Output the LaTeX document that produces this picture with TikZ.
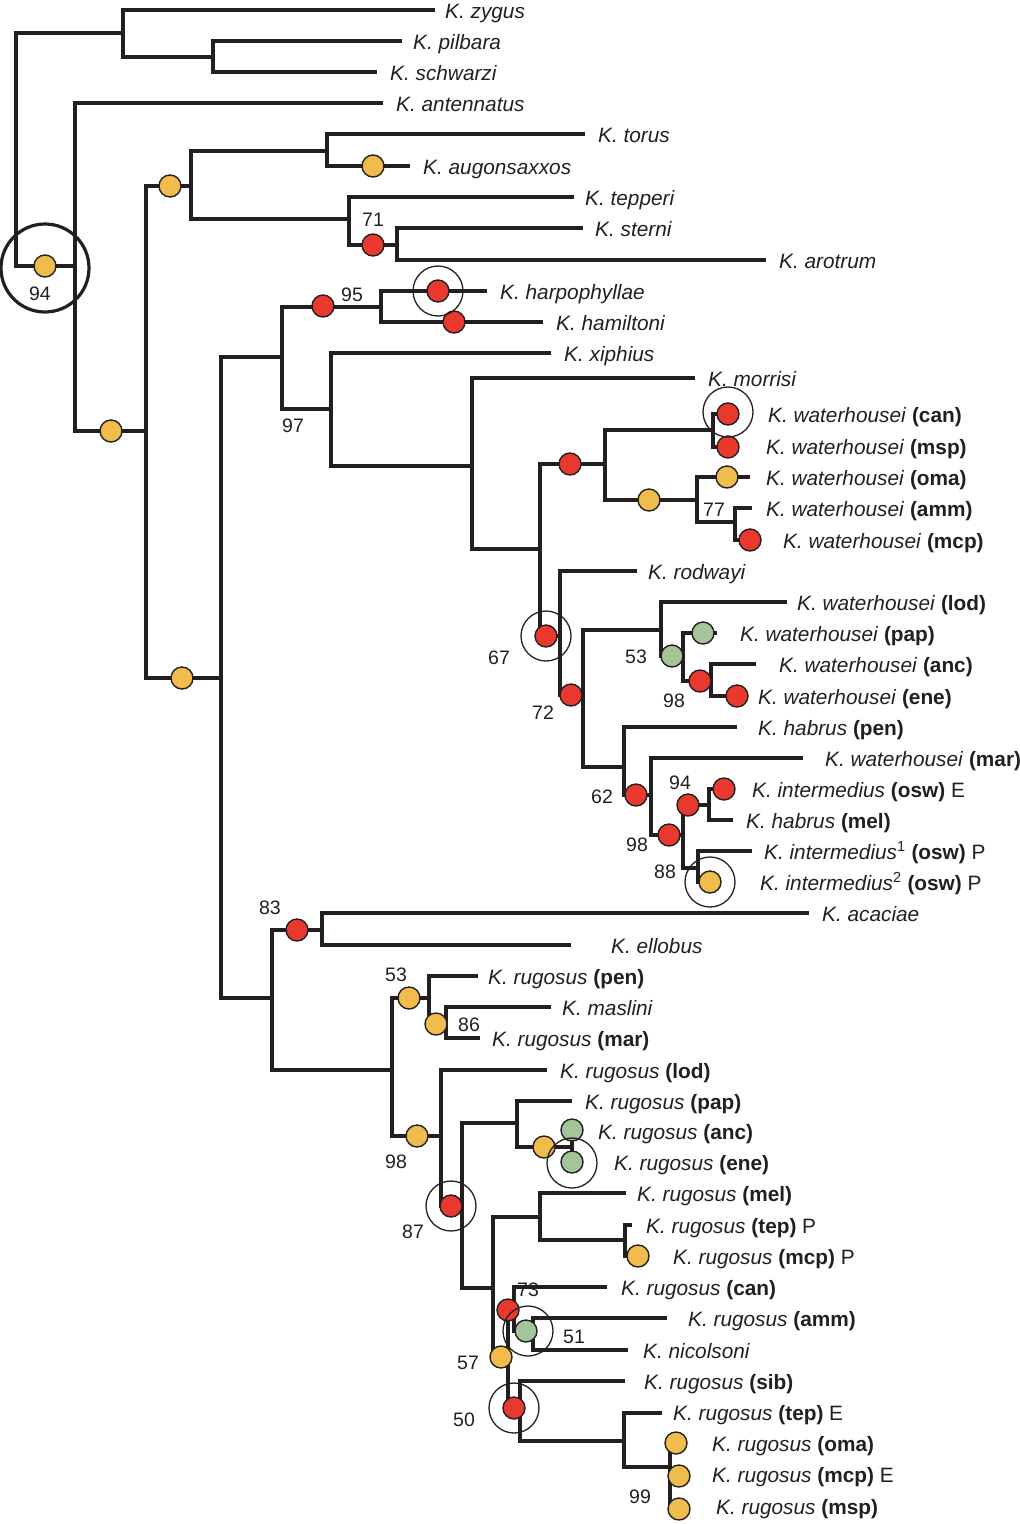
\documentclass[tikz,border=0pt]{standalone}
\usepackage{fontspec}
\setmainfont{Liberation Sans}
\definecolor{tb}{RGB}{35,31,32}
\definecolor{dyel}{RGB}{240,189,76}
\definecolor{dred}{RGB}{233,57,46}
\definecolor{dgrn}{RGB}{164,196,153}
\newcommand{\kn}[1]{\textit{K. #1}}
\begin{document}
\begin{tikzpicture}[x=1pt,y=-1pt,
  br/.style={line width=3.4pt,draw=tb,line join=miter},
  lab/.style={anchor=base west,inner sep=0pt,text=tb,font=\fontsize{20.8}{24}\selectfont},
  num/.style={anchor=center,inner sep=0pt,text=tb,font=\fontsize{19.5}{23}\selectfont},
  dot/.style={circle,minimum size=22pt,inner sep=0pt,draw=tb,line width=1.4pt},
  ydot/.style={dot,fill=dyel},
  rdot/.style={dot,fill=dred},
  gdot/.style={dot,fill=dgrn},
  ring/.style={circle,minimum size=50pt,inner sep=0pt,draw=tb,line width=1.3pt},
  bigring/.style={circle,minimum size=88pt,inner sep=0pt,draw=tb,line width=3.2pt}]
\useasboundingbox (0,0) rectangle (1020,1524);
% internal nodes
\coordinate (R) at (16,150);
\coordinate (N1) at (123,33);
\coordinate (N2) at (213,57);
\coordinate (N3) at (75,266);
\coordinate (N4) at (146,431);
\coordinate (N5) at (191,186);
\coordinate (N6) at (327,151);
\coordinate (N7) at (349,219);
\coordinate (N8) at (397,245);
\coordinate (N10) at (221,678);
\coordinate (N11) at (282,357);
\coordinate (N12) at (381,307);
\coordinate (N13) at (331,409);
\coordinate (N14) at (472,466);
\coordinate (N15) at (540,549);
\coordinate (N16) at (605,464);
\coordinate (N16a) at (713,430);
\coordinate (N16b) at (697,500);
\coordinate (N16c) at (735,522);
\coordinate (N17) at (560,636);
\coordinate (N18) at (583,695);
\coordinate (N18a) at (661,630);
\coordinate (N18b) at (683,656);
\coordinate (N18c) at (711,681);
\coordinate (N19) at (624,767);
\coordinate (N19a) at (651,795);
\coordinate (N19b) at (683,835);
\coordinate (N19c) at (709,805);
\coordinate (N19d) at (698,868);
\coordinate (N20) at (272,998);
\coordinate (N21) at (322,930);
\coordinate (N22) at (392,1070);
\coordinate (N23) at (429,998);
\coordinate (N24) at (446,1024);
\coordinate (N26) at (441,1136);
\coordinate (N27) at (462,1206);
\coordinate (N28) at (517,1123);
\coordinate (N29) at (572,1147);
\coordinate (N30) at (493,1288);
\coordinate (N31) at (540,1217);
\coordinate (N32) at (625,1240);
\coordinate (N35) at (508,1357);
\coordinate (N36) at (514,1310);
\coordinate (N37) at (533,1331);
\coordinate (N38) at (520,1408);
\coordinate (N39) at (624,1441);
\coordinate (N40) at (670,1467);
% leaves
\coordinate (Lzygus) at (435,10);
\coordinate (Lpilbara) at (402,41);
\coordinate (Lschwarzi) at (377,72);
\coordinate (Lantennatus) at (383,103);
\coordinate (Ltorus) at (585,134);
\coordinate (Laugon) at (410,166);
\coordinate (Ltepperi) at (574,197);
\coordinate (Lsterni) at (583,228);
\coordinate (Larotrum) at (766,260);
\coordinate (Lharpo) at (487,291);
\coordinate (Lhamil) at (543,322);
\coordinate (Lxiph) at (551,353);
\coordinate (Lmorr) at (695,378);
\coordinate (Lwcan) at (728,414);
\coordinate (Lwmsp) at (728,447);
\coordinate (Lwoma) at (750,477);
\coordinate (Lwamm) at (752,508);
\coordinate (Lwmcp) at (750,540);
\coordinate (Lrodw) at (637,571);
\coordinate (Lwlod) at (787,602);
\coordinate (Lwpap) at (717,633);
\coordinate (Lwanc) at (756,664);
\coordinate (Lwene) at (737,696);
\coordinate (Lhpen) at (737,727);
\coordinate (Lwmar) at (803,758);
\coordinate (LiE) at (735,789);
\coordinate (Lhmel) at (733,820);
\coordinate (Li1) at (752,851);
\coordinate (Li2) at (710,882);
\coordinate (Lacac) at (809,913);
\coordinate (Lello) at (571,945);
\coordinate (Lrpen) at (478,976);
\coordinate (Lmasl) at (551,1007);
\coordinate (Lrmar) at (480,1038);
\coordinate (Lrlod) at (547,1070);
\coordinate (Lrpap) at (572,1101);
\coordinate (Lranc) at (572,1130);
\coordinate (Lrene) at (572,1162);
\coordinate (Lrmel) at (626,1193);
\coordinate (LrtepP) at (632,1225);
\coordinate (LrmcpP) at (638,1256);
\coordinate (Lrcan) at (607,1287);
\coordinate (Lramm) at (667,1318);
\coordinate (Lnic) at (628,1350);
\coordinate (Lrsib) at (625,1381);
\coordinate (LrtepE) at (662,1413);
\coordinate (Lroma) at (676,1443);
\coordinate (LrmcpE) at (679,1476);
\coordinate (Lrmsp) at (679,1509);
% branches
\foreach \p/\c in {R/N1,R/N3,N1/Lzygus,N1/N2,N2/Lpilbara,N2/Lschwarzi,
  N3/Lantennatus,N3/N4,N4/N5,N4/N10,N5/N6,N5/N7,N6/Ltorus,N6/Laugon,
  N7/Ltepperi,N7/N8,N8/Lsterni,N8/Larotrum,N10/N11,N10/N20,N11/N12,N11/N13,
  N12/Lharpo,N12/Lhamil,N13/Lxiph,N13/N14,N14/Lmorr,N14/N15,N15/N16,N15/N17,
  N16/N16a,N16/N16b,N16a/Lwcan,N16a/Lwmsp,N16b/Lwoma,N16b/N16c,N16c/Lwamm,N16c/Lwmcp,
  N17/Lrodw,N17/N18,N18/N18a,N18/N19,N18a/Lwlod,N18a/N18b,N18b/Lwpap,N18b/N18c,
  N18c/Lwanc,N18c/Lwene,N19/Lhpen,N19/N19a,N19a/Lwmar,N19a/N19b,N19b/N19c,N19b/N19d,
  N19c/LiE,N19c/Lhmel,N19d/Li1,N19d/Li2,N20/N21,N20/N22,N21/Lacac,N21/Lello,
  N22/N23,N22/N26,N23/Lrpen,N23/N24,N24/Lmasl,N24/Lrmar,N26/Lrlod,N26/N27,
  N27/N28,N27/N30,N28/Lrpap,N28/N29,N29/Lranc,N29/Lrene,N30/N31,N30/N35,
  N31/Lrmel,N31/N32,N32/LrtepP,N32/LrmcpP,N35/N36,N35/N38,N36/Lrcan,N36/N37,
  N37/Lramm,N37/Lnic,N38/Lrsib,N38/N39,N39/LrtepE,N39/N40,N40/Lroma,N40/LrmcpE,N40/Lrmsp}
  {\draw[br] (\p) |- (\c);}
% dots
\node[ydot] (y1) at (45,266) {};
\node[ydot] (y2) at (111,431) {};
\node[ydot] (y3) at (170,186) {};
\node[ydot] (y4) at (182,678) {};
\node[ydot] (y5) at (373,166) {};
\node[ydot] (y6) at (727,477) {};
\node[ydot] (y7) at (649,500) {};
\node[ydot] (y8) at (710,882) {};
\node[ydot] (y9) at (409,998) {};
\node[ydot] (y10) at (436,1024) {};
\node[ydot] (y11) at (417,1136) {};
\node[ydot] (y12) at (544,1147) {};
\node[ydot] (y13) at (638,1256) {};
\node[ydot] (y14) at (501,1357) {};
\node[ydot] (y15) at (676,1443) {};
\node[ydot] (y16) at (679,1476) {};
\node[ydot] (y17) at (679,1509) {};
\node[rdot] (r1) at (373,245) {};
\node[rdot] (r2) at (323,306) {};
\node[rdot] (r3) at (438,291) {};
\node[rdot] (r4) at (454,322) {};
\node[rdot] (r5) at (728,414) {};
\node[rdot] (r6) at (728,447) {};
\node[rdot] (r7) at (570,464) {};
\node[rdot] (r8) at (750,540) {};
\node[rdot] (r9) at (546,636) {};
\node[rdot] (r10) at (571,695) {};
\node[rdot] (r11) at (700,681) {};
\node[rdot] (r12) at (737,696) {};
\node[rdot] (r13) at (636,795) {};
\node[rdot] (r14) at (669,835) {};
\node[rdot] (r15) at (688,805) {};
\node[rdot] (r16) at (724,789) {};
\node[rdot] (r17) at (297,930) {};
\node[rdot] (r18) at (451,1206) {};
\node[rdot] (r19) at (508,1310) {};
\node[rdot] (r20) at (514,1408) {};
\node[gdot] (g1) at (672,656) {};
\node[gdot] (g2) at (703,633) {};
\node[gdot] (g3) at (572,1130) {};
\node[gdot] (g4) at (572,1162) {};
\node[gdot] (g5) at (526,1331) {};
% rings
\node[bigring] (c0) at (45,268) {};
\node[ring] (c1) at (438,291) {};
\node[ring] (c2) at (728,412) {};
\node[ring] (c3) at (546,636) {};
\node[ring] (c4) at (710,882) {};
\node[ring] (c5) at (572,1163) {};
\node[ring] (c6) at (451,1206) {};
\node[ring] (c7) at (528,1331) {};
\node[ring] (c8) at (514,1408) {};
% support values
\node[num] (b1) at (40,294) {94};
\node[num] (b2) at (373,220) {71};
\node[num] (b3) at (352,295) {95};
\node[num] (b4) at (293,426) {97};
\node[num] (b5) at (714,510) {77};
\node[num] (b6) at (499,658) {67};
\node[num] (b7) at (636,657) {53};
\node[num] (b8) at (674,701) {98};
\node[num] (b9) at (543,713) {72};
\node[num] (b10) at (602,797) {62};
\node[num] (b11) at (680,783) {94};
\node[num] (b12) at (637,845) {98};
\node[num] (b13) at (665,872) {88};
\node[num] (b14) at (270,908) {83};
\node[num] (b15) at (396,975) {53};
\node[num] (b16) at (469,1025) {86};
\node[num] (b17) at (396,1162) {98};
\node[num] (b18) at (413,1232) {87};
\node[num] (b19) at (528,1290) {73};
\node[num] (b20) at (574,1337) {51};
\node[num] (b21) at (468,1363) {57};
\node[num] (b22) at (464,1420) {50};
\node[num] (b23) at (640,1497) {99};
% taxon labels
\node[lab] (t1) at (445,18) {\kn{zygus}};
\node[lab] (t2) at (413,49) {\kn{pilbara}};
\node[lab] (t3) at (390,80) {\kn{schwarzi}};
\node[lab] (t4) at (396,111) {\kn{antennatus}};
\node[lab] (t5) at (598,142) {\kn{torus}};
\node[lab] (t6) at (423,174) {\kn{augonsaxxos}};
\node[lab] (t7) at (585,205) {\kn{tepperi}};
\node[lab] (t8) at (595,236) {\kn{sterni}};
\node[lab] (t9) at (779,268) {\kn{arotrum}};
\node[lab] (t10) at (500,299) {\kn{harpophyllae}};
\node[lab] (t11) at (556,330) {\kn{hamiltoni}};
\node[lab] (t12) at (564,361) {\kn{xiphius}};
\node[lab] (t13) at (708,386) {\kn{morrisi}};
\node[lab] (t14) at (768,422) {\kn{waterhousei} \textbf{(can)}};
\node[lab] (t15) at (766,454) {\kn{waterhousei} \textbf{(msp)}};
\node[lab] (t16) at (766,485) {\kn{waterhousei} \textbf{(oma)}};
\node[lab] (t17) at (766,516) {\kn{waterhousei} \textbf{(amm)}};
\node[lab] (t18) at (783,548) {\kn{waterhousei} \textbf{(mcp)}};
\node[lab] (t19) at (648,579) {\kn{rodwayi}};
\node[lab] (t20) at (797,610) {\kn{waterhousei} \textbf{(lod)}};
\node[lab] (t21) at (740,641) {\kn{waterhousei} \textbf{(pap)}};
\node[lab] (t22) at (779,672) {\kn{waterhousei} \textbf{(anc)}};
\node[lab] (t23) at (758,704) {\kn{waterhousei} \textbf{(ene)}};
\node[lab] (t24) at (758,735) {\kn{habrus} \textbf{(pen)}};
\node[lab] (t25) at (825,766) {\kn{waterhousei} \textbf{(mar)}};
\node[lab] (t26) at (752,797) {\kn{intermedius} \textbf{(osw)} E};
\node[lab] (t27) at (746,828) {\kn{habrus} \textbf{(mel)}};
\node[lab] (t28) at (764,859) {\kn{intermedius}\textsuperscript{1} \textbf{(osw)} P};
\node[lab] (t29) at (760,890) {\kn{intermedius}\textsuperscript{2} \textbf{(osw)} P};
\node[lab] (t30) at (822,921) {\kn{acaciae}};
\node[lab] (t31) at (611,953) {\kn{ellobus}};
\node[lab] (t32) at (488,984) {\kn{rugosus} \textbf{(pen)}};
\node[lab] (t33) at (562,1015) {\kn{maslini}};
\node[lab] (t34) at (492,1046) {\kn{rugosus} \textbf{(mar)}};
\node[lab] (t35) at (560,1078) {\kn{rugosus} \textbf{(lod)}};
\node[lab] (t36) at (585,1109) {\kn{rugosus} \textbf{(pap)}};
\node[lab] (t37) at (598,1139) {\kn{rugosus} \textbf{(anc)}};
\node[lab] (t38) at (614,1170) {\kn{rugosus} \textbf{(ene)}};
\node[lab] (t39) at (637,1201) {\kn{rugosus} \textbf{(mel)}};
\node[lab] (t40) at (646,1233) {\kn{rugosus} \textbf{(tep)} P};
\node[lab] (t41) at (673,1264) {\kn{rugosus} \textbf{(mcp)} P};
\node[lab] (t42) at (621,1295) {\kn{rugosus} \textbf{(can)}};
\node[lab] (t43) at (688,1326) {\kn{rugosus} \textbf{(amm)}};
\node[lab] (t44) at (643,1358) {\kn{nicolsoni}};
\node[lab] (t45) at (644,1389) {\kn{rugosus} \textbf{(sib)}};
\node[lab] (t46) at (673,1420) {\kn{rugosus} \textbf{(tep)} E};
\node[lab] (t47) at (712,1451) {\kn{rugosus} \textbf{(oma)}};
\node[lab] (t48) at (712,1482) {\kn{rugosus} \textbf{(mcp)} E};
\node[lab] (t49) at (716,1514) {\kn{rugosus} \textbf{(msp)}};
\end{tikzpicture}
\end{document}
